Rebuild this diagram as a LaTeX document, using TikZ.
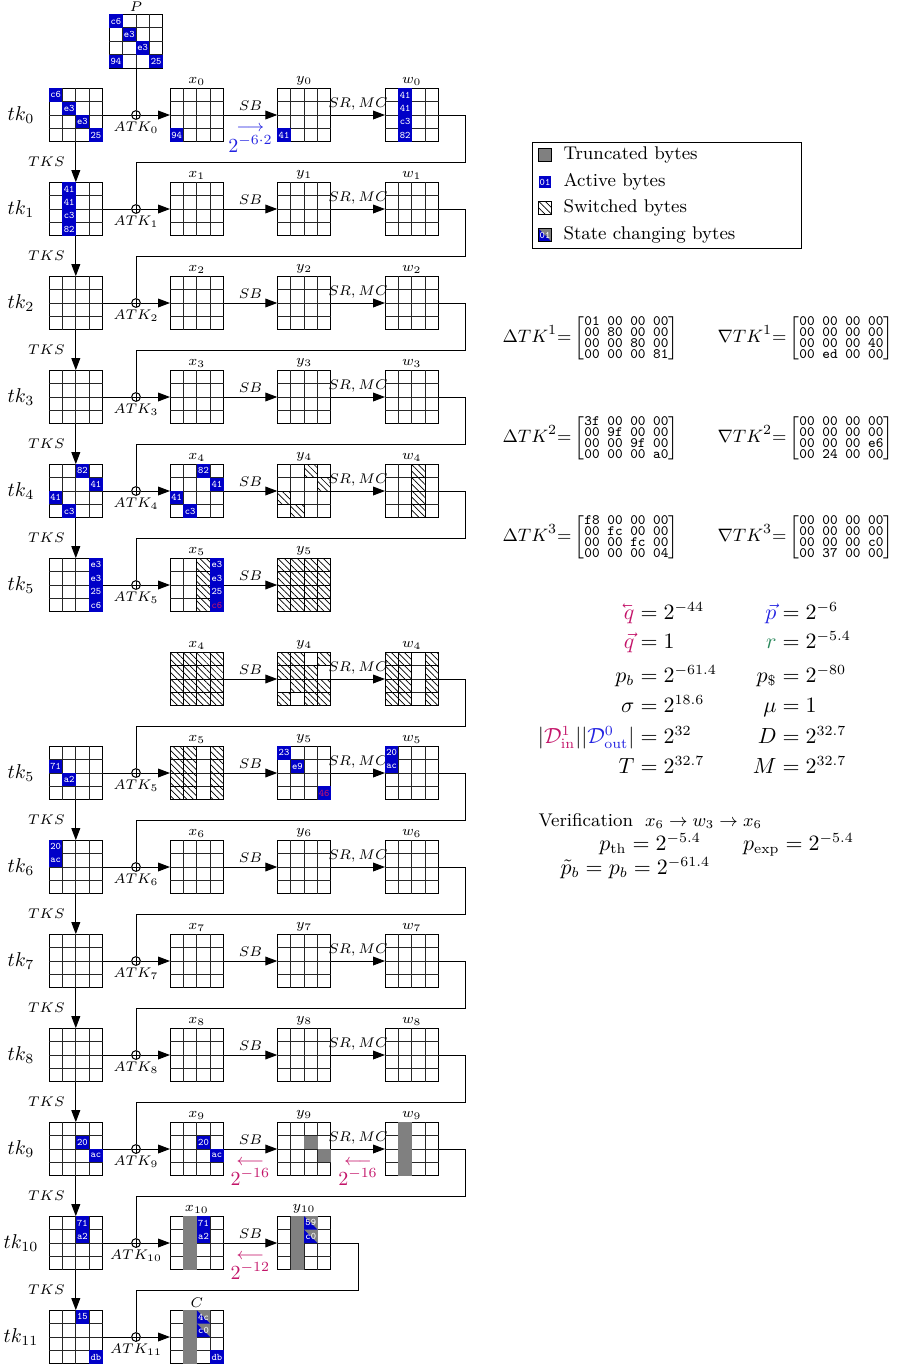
\documentclass[tikz,border=0pt]{standalone}
\usepackage{amsmath}
\usetikzlibrary{positioning,calc,arrows.meta,patterns.meta}

\definecolor{actb}{RGB}{0,0,200}
\definecolor{trc}{RGB}{128,128,128}
\definecolor{qcol}{RGB}{195,20,105}
\definecolor{pcol}{RGB}{35,35,225}
\definecolor{rcol}{RGB}{40,135,90}

\def\cw{13.4}
\newcommand{\mtt}{\fontsize{7.2}{5.5}\selectfont\ttfamily}
\newcommand{\bkq}{\reflectbox{$\vec{\reflectbox{$q$}}$}}

% 4x4 state: name, x, y, label
\newcommand{\stbox}[4]{%
  \node[st, label={[lab]above:#4}] (#1) at (#2,#3) {};
  \foreach \k in {1,2,3}{
    \draw[gl] ($(#1.north west)+(\k*\cw,0)$) -- ++(0,4*\cw);
    \draw[gl] ($(#1.north west)+(0,\k*\cw)$) -- ++(4*\cw,0);
  }}
% active byte: [text colour] state, col, row, value
\newcommand{\ab}[5][white]{%
  \fill[actb] ($(#2.north west)+(#3*\cw,#4*\cw)$) rectangle ++(\cw,\cw);
  \node[byte,text=#1] (#2a#3#4) at ($(#2.north west)+(#3*\cw+6.7,#4*\cw+6.7)$) {#5};}
% switched byte
\newcommand{\sw}[3]{%
  \draw[swp] ($(#1.north west)+(#2*\cw,#3*\cw)$) rectangle ++(\cw,\cw);}
% truncated byte / column
\newcommand{\tb}[3]{%
  \fill[trc] ($(#1.north west)+(#2*\cw,#3*\cw)$) rectangle ++(\cw,\cw);}
\newcommand{\tcol}[2]{%
  \fill[trc] ($(#1.north west)+(#2*\cw,0)$) rectangle ++(\cw,4*\cw);}
% state changing byte
\newcommand{\scb}[4]{%
  \fill[trc] ($(#1.north west)+(#2*\cw,#3*\cw)$) rectangle ++(\cw,\cw);
  \fill[actb] ($(#1.north west)+(#2*\cw,#3*\cw)$) -- ++(0,\cw) -- ++(\cw,0) -- cycle;
  \node[byte] (#1s#2#3) at ($(#1.north west)+(#2*\cw+6.7,#3*\cw+6.7)$) {#4};}
% formula aligned at '='
\newcommand{\eqn}[5]{\node[fml] (#1) at (#2,#3) {\llap{$#4$}${}={}#5$};}
\newcommand{\tkm}[4]{\left[\vcenter{\mtt\baselineskip5.5pt\lineskiplimit-5pt
  \hbox{#1}\hbox{#2}\hbox{#3}\hbox{#4}}\right]}

\begin{document}
\begin{tikzpicture}[x=0.5pt,y=-0.5pt,
  st/.style={draw, line width=.5pt, minimum size=26.8pt, inner sep=0pt, outer sep=0pt},
  gl/.style={line width=.4pt, black!85},
  byte/.style={text=white, font=\fontsize{5}{5}\selectfont\ttfamily, inner sep=0pt},
  lab/.style={font=\fontsize{7.5}{8}\selectfont, inner sep=1pt},
  opl/.style={above, font=\fontsize{7.5}{8}\selectfont, inner sep=2pt},
  tkl/.style={font=\fontsize{10}{12}\selectfont},
  arr/.style={-{Triangle[length=6pt,width=4.4pt]}, line width=.5pt},
  xor/.style={circle, draw, line width=.5pt, inner sep=0pt, minimum size=4.4pt,
    path picture={\draw (path picture bounding box.north) -- (path picture bounding box.south)
      (path picture bounding box.west) -- (path picture bounding box.east);}},
  swp/.style={pattern={Lines[angle=-45,distance=2.3pt,line width=.35pt]}, draw, line width=.5pt},
  fml/.style={anchor=base west, inner sep=0pt, font=\fontsize{10.5}{12}\selectfont},
  txt/.style={inner sep=0pt, font=\fontsize{9.2}{11}\selectfont},
  mat/.style={anchor=west, inner sep=0pt, font=\fontsize{9.4}{11}\selectfont},
  prob/.style={font=\fontsize{10}{12}\selectfont, inner sep=0pt},
  parr/.style={font=\fontsize{8}{9}\selectfont, inner sep=0pt},
  line width=.5pt]
\useasboundingbox (0,0) rectangle (905,1367);

% ---- rounds 0..5
\stbox{P}{136}{41.2}{$P$}
\foreach \r [evaluate=\r as \y using 115+94*\r] in {0,...,5}{
  \node[tkl] (n\r) at (21,\y) {$tk_{\r}$};
  \stbox{t\r}{75.8}{\y}{}
  \node[xor, label={[lab]below:$ATK_{\r}$}] (k\r) at (136,\y) {};
  \stbox{x\r}{196.8}{\y}{$x_{\r}$}
  \stbox{y\r}{304.1}{\y}{$y_{\r}$}
  \draw (t\r) -- (k\r);
  \draw[arr] (k\r) -- (x\r);
  \draw[arr] (x\r) -- node[opl] (sb\r) {$SB$} (y\r);
}
\foreach \r [evaluate=\r as \y using 115+94*\r, evaluate=\r as \n using int(\r+1)] in {0,...,4}{
  \stbox{w\r}{411.8}{\y}{$w_{\r}$}
  \draw[arr] (y\r) -- node[opl] (mc\r) {$SR,MC$} (w\r);
  \draw (w\r) -- (465,\y) -- (465,\y+47) -| (k\n);
  \draw[arr] (t\r) -- node[left=4.3pt, lab] (ks\r) {$TKS$} (t\n);
}
\draw (P) -- (k0);

\ab{P}{0}{0}{c6} \ab{P}{1}{1}{e3} \ab{P}{2}{2}{e3} \ab{P}{0}{3}{94} \ab{P}{3}{3}{25}
\ab{t0}{0}{0}{c6} \ab{t0}{1}{1}{e3} \ab{t0}{2}{2}{e3} \ab{t0}{3}{3}{25}
\ab{x0}{0}{3}{94}
\ab{y0}{0}{3}{41}
\ab{w0}{1}{0}{41} \ab{w0}{1}{1}{41} \ab{w0}{1}{2}{c3} \ab{w0}{1}{3}{82}
\ab{t1}{1}{0}{41} \ab{t1}{1}{1}{41} \ab{t1}{1}{2}{c3} \ab{t1}{1}{3}{82}
\ab{t4}{2}{0}{82} \ab{t4}{3}{1}{41} \ab{t4}{0}{2}{41} \ab{t4}{1}{3}{c3}
\ab{x4}{2}{0}{82} \ab{x4}{3}{1}{41} \ab{x4}{0}{2}{41} \ab{x4}{1}{3}{c3}
\sw{y4}{2}{0} \sw{y4}{3}{1} \sw{y4}{0}{2} \sw{y4}{1}{3}
\foreach \j in {0,...,3}{\sw{w4}{2}{\j} \sw{x5}{2}{\j}}
\ab{t5}{3}{0}{e3} \ab{t5}{3}{1}{e3} \ab{t5}{3}{2}{25} \ab{t5}{3}{3}{c6}
\ab{x5}{3}{0}{e3} \ab{x5}{3}{1}{e3} \ab{x5}{3}{2}{25} \ab[qcol]{x5}{3}{3}{c6}
\foreach \i in {0,...,3}{\foreach \j in {0,...,3}{\sw{y5}{\i}{\j}}}

\node[parr, text=pcol] (pa0) at (250.4,128) {$\longrightarrow$};
\node[prob, text=pcol] (pb0) at (250.4,144) {$2^{-6\cdot 2}$};

% ---- switch, then rounds 5..11
\stbox{bx4}{196.8}{679}{$x_4$}
\stbox{by4}{304.1}{679}{$y_4$}
\stbox{bw4}{411.8}{679}{$w_4$}
\draw[arr] (bx4) -- node[opl] (bsb4) {$SB$} (by4);
\draw[arr] (by4) -- node[opl] (bmc4) {$SR,MC$} (bw4);

\foreach \r [evaluate=\r as \y using 773+94*(\r-5)] in {5,...,11}{
  \node[tkl] (bn\r) at (21,\y) {$tk_{\r}$};
  \stbox{bt\r}{75.8}{\y}{}
  \node[xor, label={[lab]below:$ATK_{\r}$}] (bk\r) at (136,\y) {};
  \draw (bt\r) -- (bk\r);
}
\foreach \r [evaluate=\r as \y using 773+94*(\r-5), evaluate=\r as \n using int(\r+1)] in {5,...,10}{
  \stbox{bx\r}{196.8}{\y}{$x_{\r}$}
  \stbox{by\r}{304.1}{\y}{$y_{\r}$}
  \draw[arr] (bk\r) -- (bx\r);
  \draw[arr] (bx\r) -- node[opl] (bsb\r) {$SB$} (by\r);
  \draw[arr] (bt\r) -- node[left=4.3pt, lab] (bks\r) {$TKS$} (bt\n);
}
\foreach \r [evaluate=\r as \y using 773+94*(\r-5), evaluate=\r as \n using int(\r+1)] in {5,...,9}{
  \stbox{bw\r}{411.8}{\y}{$w_{\r}$}
  \draw[arr] (by\r) -- node[opl] (bmc\r) {$SR,MC$} (bw\r);
  \draw (bw\r) -- (465,\y) -- (465,\y+47) -| (bk\n);
}
\draw (bw4) -- (465,679) -- (465,726) -| (bk5);
\stbox{C}{196.8}{1337}{$C$}
\draw[arr] (bk11) -- (C);
\draw (by10) -- (358,1243) -- (358,1290) -| (bk11);

\foreach \i in {0,...,3}{\foreach \j in {0,...,3}{\sw{bx4}{\i}{\j}}}
\sw{by4}{0}{0} \sw{by4}{1}{0} \sw{by4}{3}{0}
\sw{by4}{0}{1} \sw{by4}{1}{1} \sw{by4}{2}{1}
\sw{by4}{1}{2} \sw{by4}{2}{2} \sw{by4}{3}{2}
\sw{by4}{0}{3} \sw{by4}{2}{3} \sw{by4}{3}{3}
\foreach \j in {0,...,3}{\sw{bw4}{0}{\j} \sw{bw4}{1}{\j} \sw{bw4}{3}{\j}
  \sw{bx5}{0}{\j} \sw{bx5}{1}{\j} \sw{bx5}{3}{\j}}
\ab{bt5}{0}{1}{71} \ab{bt5}{1}{2}{a2}
\ab{by5}{0}{0}{23} \ab{by5}{1}{1}{e9} \ab[qcol]{by5}{3}{3}{46}
\ab{bw5}{0}{0}{20} \ab{bw5}{0}{1}{ac}
\ab{bt6}{0}{0}{20} \ab{bt6}{0}{1}{ac}
\ab{bt9}{2}{1}{20} \ab{bt9}{3}{2}{ac}
\ab{bx9}{2}{1}{20} \ab{bx9}{3}{2}{ac}
\tb{by9}{2}{1} \tb{by9}{3}{2}
\tcol{bw9}{1}
\ab{bt10}{2}{0}{71} \ab{bt10}{2}{1}{a2}
\tcol{bx10}{1} \ab{bx10}{2}{0}{71} \ab{bx10}{2}{1}{a2}
\tcol{by10}{1} \scb{by10}{2}{0}{59} \scb{by10}{2}{1}{c0}
\ab{bt11}{2}{0}{15} \ab{bt11}{3}{3}{db}
\tcol{C}{1} \scb{C}{2}{0}{4c} \scb{C}{2}{1}{c0} \ab{C}{3}{3}{db}

\node[parr, text=qcol] (qa9) at (250.4,1162) {$\longleftarrow$};
\node[prob, text=qcol] (qb9) at (250.4,1177) {$2^{-16}$};
\node[parr, text=qcol] (qc9) at (358,1162) {$\longleftarrow$};
\node[prob, text=qcol] (qd9) at (358,1177) {$2^{-16}$};
\node[parr, text=qcol] (qa10) at (250.4,1256) {$\longleftarrow$};
\node[prob, text=qcol] (qb10) at (250.4,1271) {$2^{-12}$};

% ---- legend
\node[draw, minimum width=134.7pt, minimum height=53.4pt, inner sep=0pt] (leg) at (667,195.5) {};
\node[draw, fill=trc, minimum size=6.2pt, inner sep=0pt] (li1) at (545,155) {};
\node[byte, fill=actb, minimum size=6.2pt] (li2) at (545,182) {01};
\node[swp, minimum size=6.2pt, inner sep=0pt] (li3) at (545,208) {};
\node[byte, draw=black, fill=trc, minimum size=6.2pt, path picture={\fill[actb]
  (path picture bounding box.north west) -- (path picture bounding box.south west)
  -- (path picture bounding box.south east) -- cycle;}] (li4) at (545,235) {01};
\node[txt, anchor=west] (lt1) at (563,155) {Truncated bytes};
\node[txt, anchor=west] (lt2) at (563,182) {Active bytes};
\node[txt, anchor=west] (lt3) at (563,208) {Switched bytes};
\node[txt, anchor=west] (lt4) at (563,235) {State changing bytes};

% ---- tweakey differences
\node[mat] (dk1) at (502,338) {$\Delta TK^1{=}\tkm{01 00 00 00}{00 80 00 00}{00 00 80 00}{00 00 00 81}$};
\node[mat] (nk1) at (717,338) {$\nabla TK^1{=}\tkm{00 00 00 00}{00 00 00 00}{00 00 00 40}{00 ed 00 00}$};
\node[mat] (dk2) at (502,438) {$\Delta TK^2{=}\tkm{3f 00 00 00}{00 9f 00 00}{00 00 9f 00}{00 00 00 a0}$};
\node[mat] (nk2) at (717,438) {$\nabla TK^2{=}\tkm{00 00 00 00}{00 00 00 00}{00 00 00 e6}{00 24 00 00}$};
\node[mat] (dk3) at (502,537) {$\Delta TK^3{=}\tkm{f8 00 00 00}{00 fc 00 00}{00 00 fc 00}{00 00 00 04}$};
\node[mat] (nk3) at (717,537) {$\nabla TK^3{=}\tkm{00 00 00 00}{00 00 00 00}{00 00 00 c0}{00 37 00 00}$};

% ---- probabilities and complexities
\eqn{f1}{634}{619}{\color{qcol}\bkq}{2^{-44}}
\eqn{f2}{776}{619}{\color{pcol}\vec{p}}{2^{-6}}
\eqn{f3}{634}{648}{\color{qcol}\vec{q}}{1}
\eqn{f4}{776}{648}{\color{rcol}r}{2^{-5.4}}
\eqn{f5}{634}{682}{p_b}{2^{-61.4}}
\eqn{f6}{776}{682}{p_{\$}}{2^{-80}}
\eqn{f7}{634}{712}{\sigma}{2^{18.6}}
\eqn{f8}{776}{712}{\mu}{1}
\eqn{f9}{634}{743}{|{\color{qcol}\mathcal{D}^{1}_{\mathrm{in}}}||{\color{pcol}\mathcal{D}^{0}_{\mathrm{out}}}|}{2^{32}}
\eqn{f10}{776}{743}{D}{2^{32.7}}
\eqn{f11}{634}{773}{T}{2^{32.7}}
\eqn{f12}{776}{773}{M}{2^{32.7}}

\node[txt, anchor=base west] (ver) at (538,826) {Verification\hspace{6pt}$x_6\rightarrow w_3\rightarrow x_6$};
\eqn{f13}{626}{850}{p_{\mathrm{th}}}{2^{-5.4}}
\eqn{f14}{779}{850}{p_{\mathrm{exp}}}{2^{-5.4}}
\node[fml] (f15) at (560,874) {$\tilde{p}_b = p_b = 2^{-61.4}$};
\end{tikzpicture}
\end{document}
